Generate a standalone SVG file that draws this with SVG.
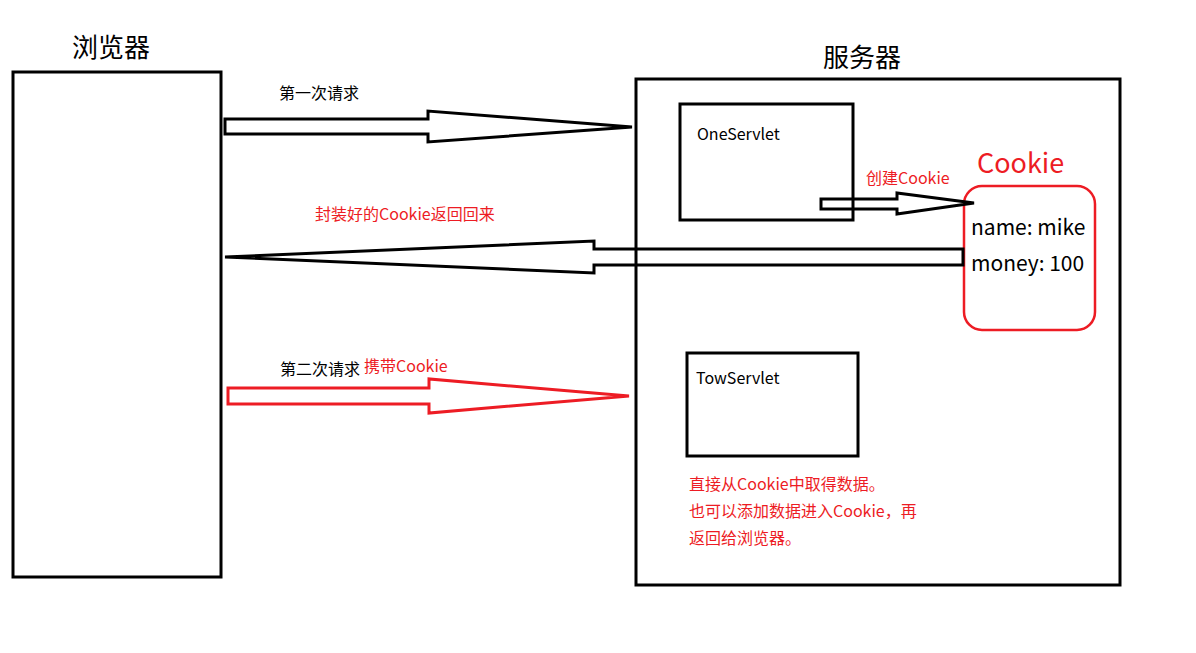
<svg xmlns="http://www.w3.org/2000/svg" width="1196" height="653" viewBox="0 0 1196 653">
<style>
.box{fill:none;stroke:#000;stroke-width:3}
.arr{fill:none;stroke:#000;stroke-width:3;stroke-linejoin:miter}
.red{stroke:#ED1C24}
.t{font-family:"Noto Sans CJK SC","Noto Sans",sans-serif;font-size:16px;fill:#000}
.r{fill:#ED1C24}
.big{font-size:26px}
</style>
<rect width="1196" height="653" fill="#fff"/>
<g id="browser">
<rect class="box" x="13" y="72" width="208" height="505"/>
<text class="t big" x="111" y="57" text-anchor="middle">浏览器</text>
</g>
<g id="server">
<rect class="box" x="636" y="79" width="484" height="506"/>
<text class="t big" x="862" y="67" text-anchor="middle">服务器</text>
</g>
<g id="oneservlet">
<rect class="box" x="680" y="104" width="173" height="116"/>
<text class="t" x="697" y="140">OneServlet</text>
</g>
<g id="towservlet">
<rect class="box" x="687" y="353" width="171" height="103"/>
<text class="t" x="696" y="384">TowServlet</text>
</g>
<g id="cookie">
<rect x="964" y="186" width="131" height="144" rx="18" fill="none" stroke="#ED1C24" stroke-width="2.5"/>
<text class="t r" x="977" y="173" style="font-size:27px">Cookie</text>
<text class="t" x="971" y="235" style="font-size:21px">name: mike</text>
<text class="t" x="971" y="271" style="font-size:21px">money: 100</text>
</g>
<g id="connectors">
<polygon class="arr" points="225,119 428,119 428,111 632,127 428,142 428,134 225,134"/>
<polygon class="arr" points="963,249 594,249 594,241 225,257 594,273 594,265 963,265"/>
<polygon class="arr" points="821,199 897,199 897,193 974,203 897,214 897,209 821,209"/>
<polygon class="arr red" points="228,388 429,388 429,379 629,396 429,413 429,404 228,404"/>
</g>
<g id="labels">
<text class="t" x="279" y="99">第一次请求</text>
<text class="t r" x="315" y="220">封装好的Cookie返回回来</text>
<text class="t r" x="866" y="184">创建Cookie</text>
<text class="t" x="280" y="375">第二次请求</text>
<text class="t r" x="364" y="372">携带Cookie</text>
<text class="t r" x="689" y="490">直接从Cookie中取得数据。</text>
<text class="t r" x="689" y="517">也可以添加数据进入Cookie，再</text>
<text class="t r" x="689" y="544">返回给浏览器。</text>
</g>
</svg>
